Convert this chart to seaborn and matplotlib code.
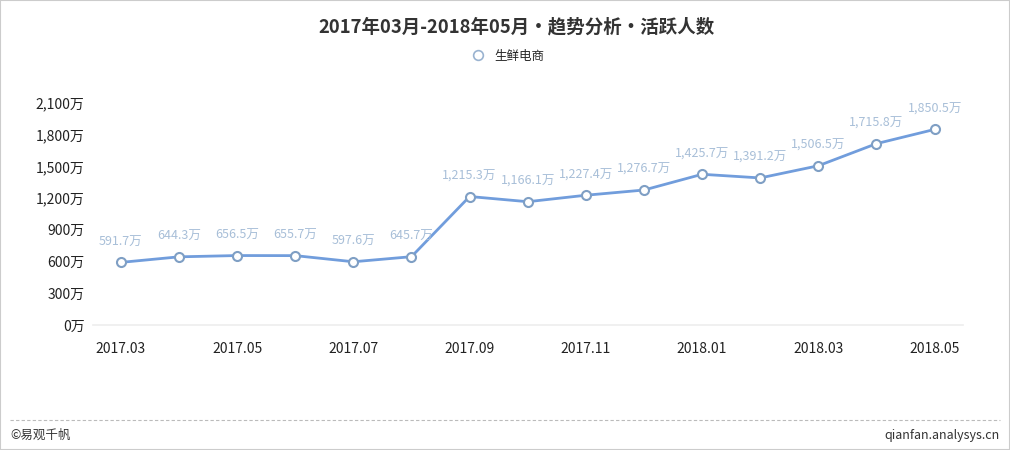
import matplotlib
matplotlib.use("Agg")
import matplotlib.pyplot as plt
import seaborn as sns
import pandas as pd
from matplotlib.ticker import FuncFormatter, FixedLocator
from matplotlib.lines import Line2D
from matplotlib.patches import Rectangle

months = ["2017.03", "2017.04", "2017.05", "2017.06", "2017.07", "2017.08", "2017.09",
          "2017.10", "2017.11", "2017.12", "2018.01", "2018.02", "2018.03", "2018.04", "2018.05"]
values = [591.7, 644.3, 656.5, 655.7, 597.6, 645.7, 1215.3, 1166.1, 1227.4, 1276.7,
          1425.7, 1391.2, 1506.5, 1715.8, 1850.5]
series_name = "生鲜电商"
title = "2017年03月-2018年05月・趋势分析・活跃人数"
yticks = [0, 300, 600, 900, 1200, 1500, 1800, 2100]

sns.set_theme(style="white")
plt.rcParams['font.family'] = ['Noto Sans CJK SC', 'DejaVu Sans']

df = pd.DataFrame({"idx": range(len(months)), "month": months, "value": values})

fig = plt.figure(figsize=(10.1, 4.5), dpi=100)
ax = fig.add_axes([0.092, 0.278, 0.861, 0.493])

line_color = "#719ddc"
sns.lineplot(data=df, x="idx", y="value", ax=ax, color=line_color, linewidth=2,
             marker="o", markersize=6.5, markerfacecolor="white",
             markeredgecolor="#7f9fc4", markeredgewidth=1.5)

for i, v in zip(df["idx"], df["value"]):
    ax.annotate(f"{v:,.1f}万", (i, v), xytext=(0, 10), textcoords="offset points",
                ha="center", va="bottom", fontsize=9, color="#a8bfd8")

ax.set_xlim(-0.48, len(months) - 0.52)
ax.set_ylim(0, 2100)
ax.yaxis.set_major_locator(FixedLocator(yticks))
ax.yaxis.set_major_formatter(FuncFormatter(lambda v, p: f"{int(v):,}万"))
ax.set_xticks(list(range(0, len(months), 2)))
ax.set_xticklabels([months[i] for i in range(0, len(months), 2)])
ax.tick_params(axis="both", labelsize=10, colors="#222222", length=0)
ax.tick_params(axis="x", pad=12)
ax.tick_params(axis="y", pad=6)
ax.set_xlabel("")
ax.set_ylabel("")
for s in ["top", "right", "left"]:
    ax.spines[s].set_visible(False)
ax.spines["bottom"].set_color("#eeeeee")
ax.grid(False)

fig.text(0.511, 0.94, title, ha="center", va="center", fontsize=13.3, fontweight="bold", color="#333333")
fig.legend(handles=[Line2D([], [], marker="o", linestyle="none", markerfacecolor="white",
                           markeredgecolor="#9ab3d0", markersize=7, markeredgewidth=1.2)],
           labels=[series_name], loc="center", bbox_to_anchor=(0.5, 0.875), frameon=False,
           fontsize=9, handletextpad=0.3)

fig.add_artist(Line2D([0.01, 0.99], [0.067, 0.067], transform=fig.transFigure,
                      color="#bbbbbb", linestyle=(0, (3, 2)), linewidth=0.8))
fig.text(0.01, 0.033, "©易观千帆", ha="left", va="center", fontsize=9, color="#333333")
fig.text(0.99, 0.033, "qianfan.analysys.cn", ha="right", va="center", fontsize=9, color="#333333")
fig.add_artist(Rectangle((0, 0), 1, 1, transform=fig.transFigure, fill=False,
                         edgecolor="#cccccc", linewidth=1.5))

fig.savefig("out.png", dpi=100, facecolor="white")
